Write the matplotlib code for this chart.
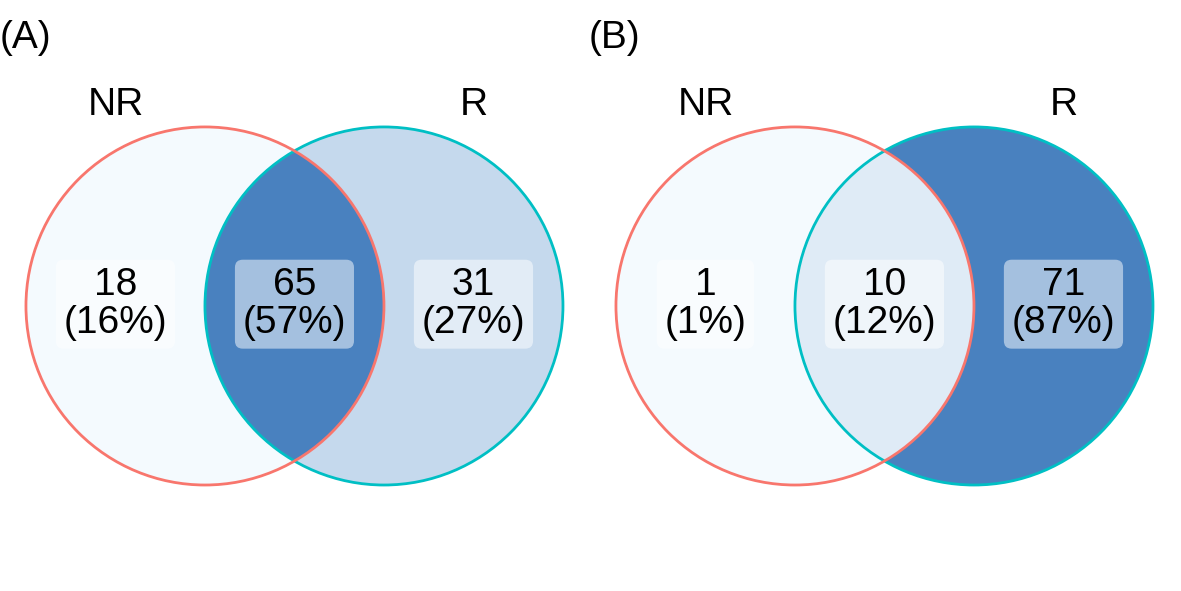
#import modules
import matplotlib.pyplot as plt
from matplotlib.patches import Circle
from matplotlib.colors import LinearSegmentedColormap, Normalize

plt.rcParams['font.family'] = ['Liberation Sans', 'DejaVu Sans']

#data: counts per region (NR only, both, R only)
panel_tags = ["(A)", "(B)"]
set_names = ["NR", "R"]
counts_a = [18, 65, 31]
counts_b = [1, 10, 71]

#fill gradient like ggVennDiagram
cmap = LinearSegmentedColormap.from_list("venn", ["#F4FAFE", "#4981BF"])
edge_colors = ["#F8766D", "#00BFC4"]
fsize = 28

fig = plt.figure(figsize=(11.81, 5.91), dpi=100)

def draw_venn(ax, counts):
    total = sum(counts)
    norm = Normalize(min(counts), max(counts))
    c_left, c_both, c_right = [cmap(norm(v)) for v in counts]

    # circles: unit radius, centres one unit apart
    ax.add_patch(Circle((0, 0), 1, facecolor=c_left, edgecolor="none", zorder=1))
    ax.add_patch(Circle((1, 0), 1, facecolor=c_right, edgecolor="none", zorder=1))
    inter = Circle((1, 0), 1, facecolor=c_both, edgecolor="none", zorder=2)
    ax.add_patch(inter)
    inter.set_clip_path(Circle((0, 0), 1, transform=ax.transData))
    ax.add_patch(Circle((1, 0), 1, fill=False, edgecolor=edge_colors[1], lw=2.0, zorder=3))
    ax.add_patch(Circle((0, 0), 1, fill=False, edgecolor=edge_colors[0], lw=2.0, zorder=3))

    # region labels
    for x, v in zip([-0.5, 0.5, 1.5], counts):
        pct = round(100 * v / total)
        ax.text(x, 0.01, f"{v}\n({pct}%)", ha="center", va="center", fontsize=fsize,
                linespacing=1.05, zorder=4,
                bbox=dict(boxstyle="round,pad=0.2,rounding_size=0.2", fc="white",
                          ec="none", alpha=0.5))

    # set names
    ax.text(-0.5, 1.12, set_names[0], ha="center", va="center", fontsize=fsize)
    ax.text(1.5, 1.12, set_names[1], ha="center", va="center", fontsize=fsize)

    ax.set_xlim(-1.145, 2.151)
    ax.set_ylim(-1.592, 1.709)
    ax.axis("off")

ax_a = fig.add_axes([0, 0, 590 / 1181, 1])
draw_venn(ax_a, counts_a)
ax_b = fig.add_axes([590 / 1181, 0, 590 / 1181, 1])
draw_venn(ax_b, counts_b)

fig.text(0, 1 - 38 / 591, panel_tags[0], ha="left", va="center", fontsize=fsize)
fig.text(589 / 1181, 1 - 38 / 591, panel_tags[1], ha="left", va="center", fontsize=fsize)

plt.savefig("out.png", dpi=100)
